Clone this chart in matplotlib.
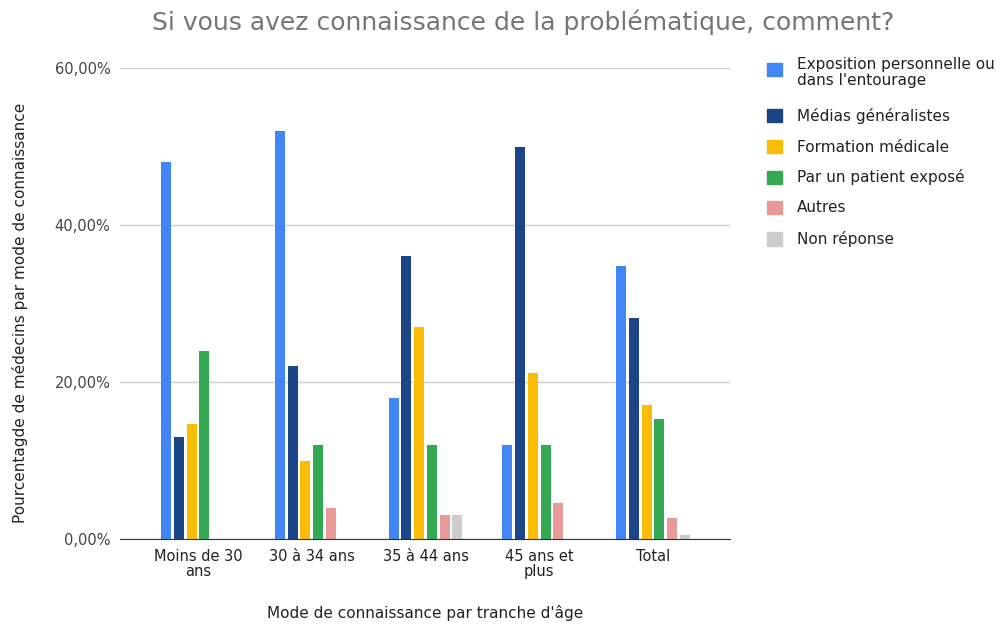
import numpy as np
import matplotlib.pyplot as plt
from matplotlib.patches import Rectangle
from matplotlib.ticker import FuncFormatter

plt.rcParams['font.family'] = ['DejaVu Sans']

categories = ["Moins de 30\nans", "30 à 34 ans", "35 à 44 ans", "45 ans et\nplus", "Total"]
series = ["Exposition personnelle ou\ndans l'entourage", "Médias généralistes",
          "Formation médicale", "Par un patient exposé", "Autres", "Non réponse"]
colors = ["#4285F4", "#1C4587", "#FBBC04", "#34A853", "#EA9999", "#CCCCCC"]

exposition = [48.0, 52.0, 18.0, 12.0, 34.8]
medias = [13.0, 22.0, 36.1, 50.0, 28.2]
formation = [14.7, 10.0, 27.0, 21.1, 17.1]
patient = [24.0, 12.0, 12.0, 12.0, 15.3]
autres = [0.0, 4.0, 3.0, 4.6, 2.7]
non_reponse = [0.0, 0.0, 3.0, 0.0, 0.5]
values = [exposition, medias, formation, patient, autres, non_reponse]

fig = plt.figure(figsize=(10, 6.25), dpi=100)
ax = fig.add_axes([0.12, 0.1376, 0.61, 0.7536])

x = np.arange(len(categories))
step = 0.112
width = 0.088
for k, (vals, col) in enumerate(zip(values, colors)):
    ax.bar(x + (k - 2.5) * step, vals, width, color=col, zorder=3)

ax.set_xlim(-0.686, 4.677)
ax.set_ylim(0, 60)
ax.set_yticks([0, 20, 40, 60])
ax.yaxis.set_major_formatter(FuncFormatter(lambda v, p: f"{v:.2f}%".replace(".", ",")))
ax.set_xticks(x)
ax.set_xticklabels(categories, fontsize=10.5, color="#222222", linespacing=1.0)
ax.tick_params(axis='y', labelsize=10.5, colors="#444444", length=0, pad=7)
ax.tick_params(axis='x', length=0, pad=7)
ax.grid(axis='y', color="#CCCCCC", linewidth=1, zorder=0)
for s in ["top", "right", "left"]:
    ax.spines[s].set_visible(False)
ax.spines["bottom"].set_color("#333333")
ax.spines["bottom"].set_zorder(4)

fig.text(0.02, 0.50, "Pourcentagde de médecins par mode de connaissance",
         rotation=90, ha="center", va="center", fontsize=11, color="#222222")
fig.text(0.425, 0.019, "Mode de connaissance par tranche d'âge",
         ha="center", va="center", fontsize=11, color="#222222")
fig.text(0.523, 0.965, "Si vous avez connaissance de la problématique, comment?",
         ha="center", va="center", fontsize=18, color="#757575")

# legend (pixel rows)
text_y = [72.5, 116, 147, 177, 208, 239]
box_y = [69.5, 115.5, 146.5, 177, 208, 239]
for lab, col, ty, by in zip(series, colors, text_y, box_y):
    fig.patches.append(Rectangle((0.767, 1 - (by + 6.5) / 625), 0.015, 13 / 625, color=col,
                                 transform=fig.transFigure, figure=fig))
    fig.text(0.797, 1 - ty / 625, lab, fontsize=11, color="#222222", va="center",
             linespacing=1.05)

fig.savefig("out.png", dpi=100)
